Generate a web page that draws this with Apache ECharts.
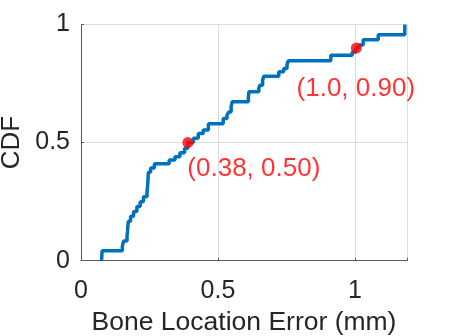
<!DOCTYPE html>
<html>
<head>
<meta charset="utf-8">
<script src="https://cdn.jsdelivr.net/npm/echarts@6/dist/echarts.min.js"></script>
<style>html,body{margin:0;padding:0;background:#fff}#c{width:449px;height:336px}</style>
</head>
<body>
<div id="c"></div>
<script>
// CDF step data: error (mm) where the CDF steps, and the level after the step
var errorX = [0.075, 0.077, 0.151, 0.156, 0.168, 0.170, 0.171, 0.173, 0.181, 0.192, 0.204, 0.216, 0.228, 0.241, 0.243, 0.244, 0.245, 0.246, 0.254, 0.268, 0.322, 0.343, 0.361, 0.378, 0.390, 0.410, 0.428, 0.446, 0.465, 0.519, 0.533, 0.540, 0.548, 0.552, 0.611, 0.613, 0.649, 0.653, 0.663, 0.667, 0.722, 0.740, 0.752, 0.757, 0.912, 0.990, 1.003, 1.015, 1.030, 1.085, 1.182];
var cdfY   = [0.000, 0.042, 0.063, 0.083, 0.104, 0.125, 0.146, 0.167, 0.188, 0.208, 0.229, 0.250, 0.271, 0.292, 0.313, 0.333, 0.354, 0.375, 0.392, 0.410, 0.426, 0.440, 0.457, 0.476, 0.500, 0.518, 0.539, 0.553, 0.580, 0.602, 0.616, 0.630, 0.652, 0.673, 0.694, 0.715, 0.730, 0.743, 0.764, 0.781, 0.800, 0.814, 0.830, 0.847, 0.870, 0.884, 0.900, 0.913, 0.935, 0.957, 1.000];
// highlighted points and their labels
var markX = [0.39, 1.005];
var markY = [0.50, 0.90];
var markLabels = ['(0.38, 0.50)', '(1.0, 0.90)'];
var xTicks = [0, 0.5, 1];
var yTicks = [0, 0.5, 1];

var font = "'Liberation Sans', Arial, Helvetica, sans-serif";
var txt = '#262626';
var curve = errorX.map(function (x, i) { return [x, cdfY[i]]; });
var labelPos = [
  {position: [5, 32], align: 'left', verticalAlign: 'middle'},
  {position: [5, 46], align: 'center', verticalAlign: 'middle'}
];
var marks = markX.map(function (x, i) {
  return {
    value: [x, markY[i]],
    label: Object.assign({show: true, formatter: markLabels[i], color: '#ff0000', fontSize: 26, fontFamily: font}, labelPos[i])
  };
});

var chart = echarts.init(document.getElementById('c'), null, {renderer: 'canvas'});
chart.setOption({
  animation: false,
  backgroundColor: '#ffffff',
  grid: {left: 81, right: 42, top: 24.5, bottom: 75.3, containLabel: false, outerBoundsMode: 'none'},
  xAxis: {
    type: 'value', min: 0, max: 1.19, interval: 0.5,
    name: 'Bone Location Error (mm)', nameLocation: 'middle', nameGap: 48,
    nameTextStyle: {color: txt, fontSize: 26.5, fontFamily: font},
    axisLine: {show: true, onZero: false, lineStyle: {color: '#5a5a5a', width: 1}},
    axisTick: {show: true, inside: true, length: 3, lineStyle: {color: '#5a5a5a'}},
    axisLabel: {color: txt, fontSize: 25, fontFamily: font, margin: 18,
      formatter: function (v) { return xTicks.indexOf(v) >= 0 ? String(v) : ''; }},
    splitLine: {show: true, lineStyle: {color: '#dedede', width: 1}}
  },
  yAxis: {
    type: 'value', min: 0, max: 1, interval: 0.5,
    name: 'CDF', nameLocation: 'middle', nameGap: 35,
    nameTextStyle: {color: txt, fontSize: 26, fontFamily: font},
    axisLine: {show: true, onZero: false, lineStyle: {color: '#5a5a5a', width: 1}},
    axisTick: {show: true, inside: true, length: 3, lineStyle: {color: '#5a5a5a'}},
    axisLabel: {color: txt, fontSize: 25, fontFamily: font, margin: 11,
      formatter: function (v) { return yTicks.indexOf(v) >= 0 ? String(v) : ''; }},
    splitLine: {show: true, lineStyle: {color: '#dedede', width: 1}}
  },
  series: [
    {
      type: 'line', step: 'end', data: curve, showSymbol: false, symbol: 'none',
      lineStyle: {color: '#0072BD', width: 3.5}, z: 2
    },
    {
      type: 'scatter', data: marks, symbol: 'circle', symbolSize: 11,
      itemStyle: {color: '#ff0000'}, z: 3
    }
  ]
});
</script>
</body>
</html>
